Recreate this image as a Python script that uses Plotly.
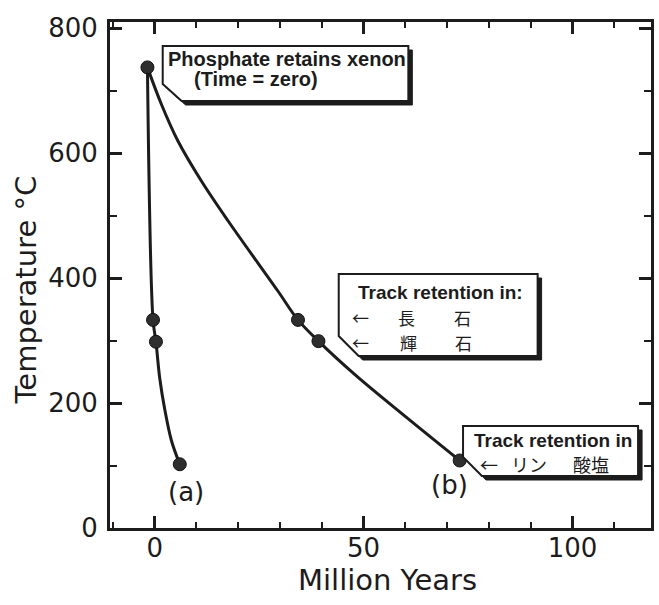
import plotly.graph_objects as go

# Cooling curves (temperature vs. time since xenon retention)
curve_a_x = [-1.74, -0.4, 0.3, 1.2, 2.4, 4.0, 6.0]
curve_a_y = [737, 333, 298, 240, 190, 140, 102]
curve_b_x = [-1.74, 1.6, 5.5, 11.1, 17.5, 29.4, 34.3, 39.2, 48.0, 59.9, 73.0]
curve_b_y = [737, 678, 620, 556, 492, 380, 333, 299, 245, 179, 108]

# Measured points on each curve
points_a_x = [-1.74, -0.4, 0.3, 6.0]
points_a_y = [737, 333, 298, 102]
points_b_x = [34.3, 39.2, 73.0]
points_b_y = [333, 299, 108]

x_ticks = [0, 50, 100]
y_ticks = [0, 200, 400, 600, 800]

W, H = 659, 605
ML, MR, MT, MB = 110, 5, 22, 77
PW, PH = W - ML - MR, H - MT - MB
INK = "#1c1c1c"


def paper(xp, yp):
    return (xp - ML) / PW, (H - MB - yp) / PH


def path(points):
    pts = [paper(x, y) for x, y in points]
    return "M " + " L ".join(f"{x:.5f},{y:.5f}" for x, y in pts) + " Z"


fig = go.Figure()
line_style = dict(color=INK, width=3, shape="spline", smoothing=1.0)
fig.add_trace(go.Scatter(x=curve_a_x, y=curve_a_y, mode="lines", line=line_style, hoverinfo="skip"))
fig.add_trace(go.Scatter(x=curve_b_x, y=curve_b_y, mode="lines", line=line_style, hoverinfo="skip"))
marker_style = dict(size=13, color="#2e2e2e", line=dict(color="#111", width=1))
fig.add_trace(go.Scatter(x=points_a_x, y=points_a_y, mode="markers", marker=marker_style))
fig.add_trace(go.Scatter(x=points_b_x, y=points_b_y, mode="markers", marker=marker_style))

# Callout boxes with a cut lower-left corner and a heavy drop shadow
boxes = [
    [(163, 46), (410, 46), (410, 101), (182, 101), (163, 84)],
    [(340, 274), (540, 274), (540, 356), (360, 356), (340, 336)],
    [(465, 426), (641, 426), (641, 476), (484, 476), (465, 457)],
]
shapes = []
for b in boxes:
    shadow = [(x + 4, y + 4) for x, y in b]
    shapes.append(dict(type="path", xref="paper", yref="paper", path=path(shadow),
                       fillcolor=INK, line=dict(color=INK, width=1), layer="above"))
    shapes.append(dict(type="path", xref="paper", yref="paper", path=path(b),
                       fillcolor="white", line=dict(color=INK, width=2), layer="above"))

bold = dict(family="Liberation Sans", size=19, color=INK, weight="bold")
bold_big = dict(family="Liberation Sans", size=20, color=INK, weight="bold")
cjk = dict(family="Noto Sans CJK JP", size=18, color=INK)
cjk_small = dict(family="Noto Sans CJK JP", size=17, color=INK)
plain = dict(family="DejaVu Sans", size=26, color=INK)
title_font = dict(family="DejaVu Sans", size=29, color=INK)

labels = [
    ("Phosphate retains xenon", 288, 59, bold_big, 0),
    ("(Time = zero)", 257, 79, bold_big, 0),
    ("Track retention in:", 442, 292, bold, 0),
    ("←", 362, 317, cjk_small, 0),
    ("長", 408, 317, cjk_small, 0),
    ("石", 464, 317, cjk_small, 0),
    ("←", 362, 342, cjk_small, 0),
    ("輝", 410, 342, cjk_small, 0),
    ("石", 465, 342, cjk_small, 0),
    ("Track retention in", 555, 440, bold, 0),
    ("←", 491, 464, cjk, 0),
    ("リン", 531, 464, cjk, 0),
    ("酸塩", 594, 464, cjk, 0),
    ("(a)", 186, 492, plain, 0),
    ("(b)", 451, 485, plain, 0),
    ("Million Years", 389, 580, title_font, 0),
    ("Temperature °C", 26, 290, title_font, -90),
]
annotations = []
for text, xp, yp, font, ang in labels:
    ax, ay = paper(xp, yp)
    annotations.append(dict(text=text, x=ax, y=ay, xref="paper", yref="paper",
                            xanchor="center", yanchor="middle", showarrow=False,
                            font=font, textangle=ang, borderpad=0))

axis_common = dict(showline=True, linecolor=INK, linewidth=3, mirror="ticks",
                   ticks="inside", tickcolor=INK, tickwidth=2.5, ticklen=12,
                   showgrid=False, zeroline=False,
                   tickfont=dict(family="DejaVu Sans", size=26, color=INK))

fig.update_layout(
    width=W, height=H,
    margin=dict(l=ML, r=MR, t=MT, b=MB, pad=0),
    paper_bgcolor="white", plot_bgcolor="white",
    showlegend=False,
    shapes=shapes,
    annotations=annotations,
    xaxis=dict(range=[-10.7, 118.8], tickvals=x_ticks, ticklabelstandoff=-5,
               minor=dict(dtick=10, tick0=0, ticks="inside", ticklen=6, tickwidth=2, tickcolor=INK),
               **axis_common),
    yaxis=dict(range=[0, 809.6], tickvals=y_ticks, ticklabelstandoff=4,
               minor=dict(dtick=100, tick0=0, ticks="inside", ticklen=7, tickwidth=2, tickcolor=INK),
               **axis_common),
)

fig.write_html("out.html")
